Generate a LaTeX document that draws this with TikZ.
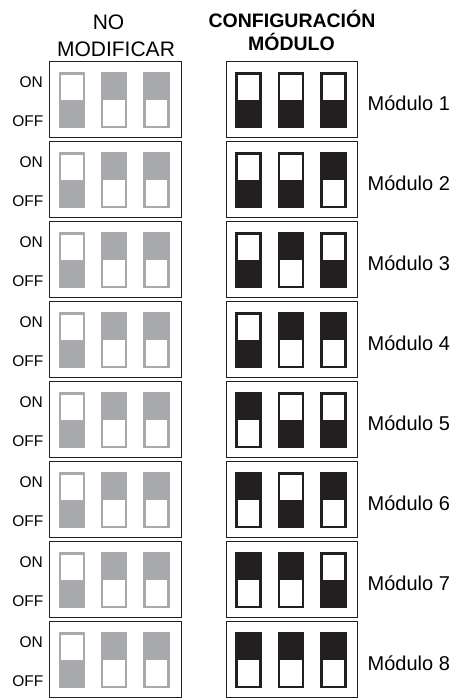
\documentclass[tikz,border=0pt]{standalone}
\usepackage{fontspec}
\setmainfont{Liberation Sans}
\usetikzlibrary{positioning}
\definecolor{gris}{RGB}{167,169,172}
\definecolor{negro}{RGB}{35,31,32}

\tikzset{caja/.style={draw=negro,line width=1pt},
llave/.style={line width=2.5pt},
onoff/.style={inner sep=0pt,anchor=east,font=\fontsize{15.5}{17}\selectfont},
modulo/.style={inner sep=0pt,anchor=base west,font=\fontsize{20}{22}\selectfont},
titulo/.style={inner sep=0pt,anchor=base,font=\fontsize{21}{24}\selectfont}}

% interruptor: x, y superior, color, 1 = mitad superior llena
\newcommand{\interruptor}[4]{%
\ifnum#4=1
\fill[#3] (#1,#2) rectangle ++(24,26.75);
\else
\fill[#3] (#1,#2+26.75) rectangle ++(24,26.75);
\fi
\draw[#3,llave] (#1,#2) rectangle ++(24,53.5);}

\begin{document}
\begin{tikzpicture}[x=1pt,y=-1pt]
\useasboundingbox (0,0) rectangle (459,699);
%encabezados
\path (108.5,29) node(no)[titulo]{NO}
(116,56) node(modif)[titulo]{MODIFICAR}
(292,27) node(config)[titulo,font=\fontsize{19.5}{22}\bfseries]{CONFIGURACIÓN}
(291.5,50) node(modul)[titulo,font=\fontsize{19.5}{22}\bfseries]{MÓDULO};
%filas
\foreach \k/\a/\b/\c [evaluate=\k as \t using 61+80*(\k-1)] in
{1/0/0/0,2/0/0/1,3/0/1/0,4/0/1/1,5/1/0/0,6/1/0/1,7/1/1/0,8/1/1/1}{
\draw[caja] (49,\t) rectangle (181,\t+76.5);
\draw[caja] (226,\t) rectangle (357,\t+76.5);
\path (43,\t+20.7) node(on\k)[onoff]{ON}
(43.5,\t+60) node(off\k)[onoff]{OFF}
(367.5,\t+49.5) node(m\k)[modulo]{Módulo \k};
\interruptor{59.75}{\t+12.25}{gris}{0}
\interruptor{102}{\t+12.25}{gris}{1}
\interruptor{144.5}{\t+12.25}{gris}{1}
\interruptor{236.25}{\t+12.25}{negro}{\a}
\interruptor{279}{\t+12.25}{negro}{\b}
\interruptor{321.25}{\t+12.25}{negro}{\c}
}
\end{tikzpicture}
\end{document}
